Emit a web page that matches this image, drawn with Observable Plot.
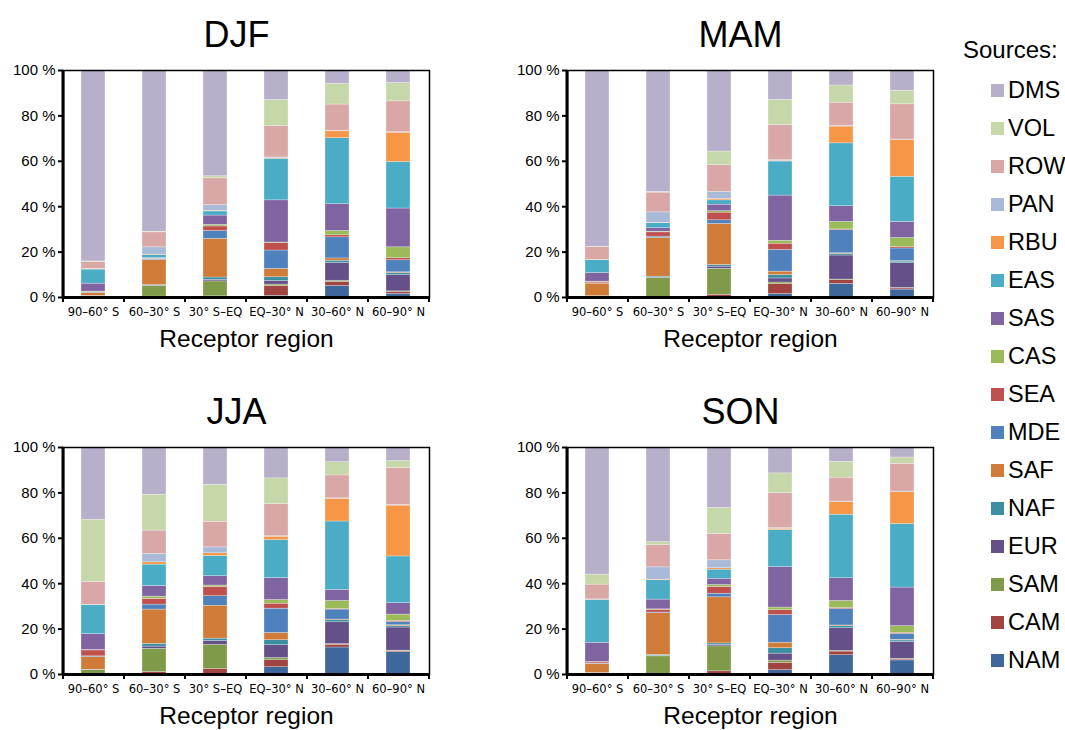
<!DOCTYPE html>
<html>
<head>
<meta charset="utf-8">
<script src="https://cdn.jsdelivr.net/npm/d3@7"></script>
<script src="https://cdn.jsdelivr.net/npm/@observablehq/plot@0.6"></script>
<style>
  html, body { margin: 0; padding: 0; background: #fff; }
  #chart { position: relative; width: 1065px; height: 730px; overflow: hidden;
           font-family: "Liberation Sans", Arial, sans-serif; color: #000; }
  #chart svg { position: absolute; }
  .legend-title { position: absolute; left: 963px; top: 38px; font-size: 24px; line-height: 24px; white-space: nowrap; }
  .legend-item { position: absolute; left: 991px; height: 28px; line-height: 28px; display: flex; align-items: center;
                 font-size: 23.5px; white-space: nowrap; }
  .swatch { width: 13px; height: 13px; margin-right: 4px; flex: none; }
</style>
</head>
<body>
<div id="chart"></div>
<script>
// Emission source regions, in stacking order (bottom of each bar first)
const sources = ["NAM", "CAM", "SAM", "EUR", "NAF", "SAF", "MDE", "SEA", "CAS", "SAS", "EAS", "RBU", "PAN", "ROW", "VOL", "DMS"];
const sourceColors = ["#3e679b", "#a04341", "#7f9b4a", "#66508a", "#3a8fa2", "#d07c38", "#4f81bd", "#c0504d",
                      "#9bbb59", "#8064a2", "#4bacc6", "#f79646", "#a9bad9", "#d9a7a6", "#c6d7aa", "#b8afcb"];

// Receptor latitude bands
const regions = ["90–60° S", "60–30° S", "30° S–EQ", "EQ–30° N", "30–60° N", "60–90° N"];
const seasons = ["DJF", "MAM", "JJA", "SON"];
const yTicks = [0, 20, 40, 60, 80, 100];

// Contribution (%) of each source to each receptor band; one row per band,
// values in the order of `sources`
const djf = [
  [0.1, 0.1, 0.3, 0.1, 0.1, 1.3, 0.2, 0.2, 0.2, 3.5, 6.2, 0.2, 0.1, 3.0, 0.3, 84.1],
  [0.2, 0.2, 4.6, 0.2, 0.3, 11.0, 0.3, 0.2, 0.1, 0.3, 1.3, 0.2, 3.2, 6.6, 0.3, 71.0],
  [0.2, 0.3, 6.6, 0.7, 1.0, 17.0, 3.5, 2.0, 0.7, 4.1, 1.8, 0.3, 2.5, 11.8, 0.9, 46.6],
  [0.7, 4.4, 0.6, 1.6, 1.6, 3.7, 8.1, 3.2, 0.3, 18.6, 18.3, 0.3, 0.3, 13.9, 11.4, 13.0],
  [5.1, 1.8, 0.5, 7.8, 1.0, 1.0, 9.3, 0.9, 1.9, 11.8, 29.1, 3.0, 0.2, 11.6, 9.2, 5.8],
  [1.6, 0.9, 0.2, 7.2, 0.9, 0.3, 5.3, 0.9, 4.8, 17.1, 20.5, 12.9, 0.2, 13.6, 8.1, 5.5]
];
const mam = [
  [0.1, 0.1, 0.2, 0.1, 0.1, 5.5, 0.2, 0.6, 0.1, 3.8, 5.6, 0.1, 0.1, 5.6, 0.2, 77.6],
  [0.1, 0.1, 8.4, 0.2, 0.4, 17.0, 0.6, 1.9, 0.3, 1.5, 2.2, 0.2, 4.6, 8.7, 0.3, 53.5],
  [0.2, 1.0, 11.4, 1.0, 0.7, 18.1, 1.6, 3.4, 0.6, 2.9, 1.9, 0.6, 3.1, 11.8, 6.0, 35.7],
  [1.5, 4.4, 0.7, 1.8, 1.5, 1.5, 9.6, 2.7, 1.3, 19.9, 15.0, 0.3, 0.3, 15.5, 11.1, 12.9],
  [6.0, 1.6, 0.3, 10.6, 0.7, 0.3, 10.2, 0.3, 3.3, 6.9, 27.7, 7.4, 0.3, 10.2, 7.6, 6.6],
  [3.5, 0.5, 0.2, 10.9, 0.7, 0.2, 5.6, 0.7, 3.9, 7.1, 19.9, 16.2, 0.2, 15.5, 6.0, 8.9]
];
const jja = [
  [0.1, 0.2, 1.6, 0.1, 0.1, 5.6, 0.3, 2.6, 0.2, 7.0, 12.7, 0.1, 0.1, 10.1, 27.4, 31.8],
  [0.3, 0.8, 10.2, 1.0, 1.2, 15.1, 2.2, 2.5, 1.0, 4.7, 9.4, 1.0, 3.8, 10.2, 15.8, 20.8],
  [0.3, 2.2, 10.5, 1.8, 1.0, 14.5, 4.2, 4.1, 0.6, 4.1, 8.9, 1.2, 2.6, 11.3, 16.3, 16.4],
  [3.2, 3.1, 1.0, 5.6, 2.2, 3.2, 10.7, 2.2, 1.6, 9.7, 16.7, 1.5, 0.2, 14.2, 11.3, 13.6],
  [11.9, 1.2, 0.3, 9.6, 0.9, 0.3, 4.4, 0.3, 3.5, 4.9, 30.1, 10.0, 0.2, 10.1, 5.8, 6.5],
  [9.8, 0.4, 0.3, 10.2, 0.6, 0.4, 1.4, 0.5, 2.8, 5.0, 20.6, 22.4, 0.3, 16.3, 3.0, 6.0]
];
const son = [
  [0.1, 0.1, 0.3, 0.1, 0.1, 3.8, 0.3, 0.5, 0.2, 8.5, 18.9, 0.1, 0.1, 6.5, 4.4, 55.9],
  [0.1, 0.1, 7.8, 0.2, 0.4, 18.4, 0.3, 1.2, 0.2, 4.3, 8.5, 0.3, 5.4, 9.8, 1.3, 41.7],
  [0.2, 1.2, 11.0, 0.7, 0.6, 20.3, 1.6, 2.9, 0.9, 2.8, 4.0, 0.6, 3.5, 11.6, 11.5, 26.6],
  [1.9, 3.2, 1.0, 3.1, 2.4, 2.4, 12.2, 2.1, 1.2, 17.8, 16.3, 0.6, 0.3, 15.4, 8.7, 11.4],
  [8.5, 1.6, 0.3, 10.0, 0.9, 0.3, 7.2, 0.5, 3.1, 10.0, 28.0, 5.6, 0.2, 10.5, 7.0, 6.3],
  [6.2, 0.4, 0.3, 7.5, 0.6, 0.3, 2.6, 0.4, 3.0, 17.0, 28.0, 14.0, 0.3, 12.2, 2.8, 4.4]
];
const seasonValues = [djf, mam, jja, son];

// Long-format table: one row per season × band × source
const rows = [];
seasons.forEach((season, s) => {
  regions.forEach((region, r) => {
    sources.forEach((source, k) => {
      rows.push({season, region, source, value: seasonValues[s][r][k]});
    });
  });
});

const chart = document.getElementById("chart");

// Panel geometry (2 × 2 grid)
const W = 440, H = 360;
const margin = {left: 63, right: 11, top: 70, bottom: 63};
const innerW = W - margin.left - margin.right;
const step = innerW / regions.length;        // band step (outer padding = inner/2)
const colLeft = [0, 504], rowTop = [0, 377];

seasons.forEach((season, s) => {
  const data = rows.filter(d => d.season === season);
  const svg = Plot.plot({
    width: W,
    height: H,
    marginLeft: margin.left,
    marginRight: margin.right,
    marginTop: margin.top,
    marginBottom: margin.bottom,
    style: {fontFamily: "Liberation Sans, Arial, sans-serif", fontSize: "15px", color: "#000", background: "transparent", overflow: "visible"},
    x: {domain: regions, paddingInner: 0.6, paddingOuter: 0.3},
    y: {domain: [0, 100]},
    color: {domain: sources, range: sourceColors},
    marks: [
      Plot.barY(data, {x: "region", y: "value", fill: "source", stroke: "#fff", strokeWidth: 0.5, strokeOpacity: 0.55}),
      Plot.frame({stroke: "#000", strokeWidth: 1.5}),
      Plot.ruleY([0], {stroke: "#000", strokeWidth: 3}),
      Plot.ruleX([regions[0]], {dx: -step / 2, stroke: "#000", strokeWidth: 3}),
      Plot.axisY({ticks: yTicks, tickSize: 5, tickPadding: 3, strokeWidth: 2,
                  tickFormat: d => `${d} %`, fontSize: 15, label: null}),
      // category labels under each bar
      Plot.axisX({tickSize: 0, tickPadding: 10, fontSize: 11.5, fontFamily: "DejaVu Sans", label: null}),
      // tick marks on the boundaries between bands
      Plot.axisX({tickSize: 5, tickFormat: () => "", dx: -step / 2, strokeWidth: 2, label: null}),
      Plot.axisX({ticks: [regions[regions.length - 1]], tickSize: 5, tickFormat: () => "", dx: step / 2, strokeWidth: 2, label: null}),
      Plot.text([season], {text: d => d, frameAnchor: "top", dx: -10, dy: -24, lineAnchor: "bottom", fontSize: 36, fill: "#000"}),
      Plot.text(["Receptor region"], {text: d => d, frameAnchor: "bottom", dy: 49, lineAnchor: "bottom", fontSize: 24.5, fill: "#000"})
    ]
  });
  svg.style.left = colLeft[s % 2] + "px";
  svg.style.top = rowTop[Math.floor(s / 2)] + "px";
  chart.appendChild(svg);
});

// Vertical legend, top entry = top of the stack
const legendTitle = document.createElement("div");
legendTitle.className = "legend-title";
legendTitle.textContent = "Sources:";
chart.appendChild(legendTitle);

const legendOrder = sources.map((name, i) => ({name, color: sourceColors[i]})).reverse();
legendOrder.forEach((d, i) => {
  const item = document.createElement("div");
  item.className = "legend-item";
  item.style.top = (90 + 38 * i - 14) + "px";
  const sw = document.createElement("span");
  sw.className = "swatch";
  sw.style.background = d.color;
  const label = document.createElement("span");
  label.textContent = d.name;
  item.appendChild(sw);
  item.appendChild(label);
  chart.appendChild(item);
});
</script>
</body>
</html>
